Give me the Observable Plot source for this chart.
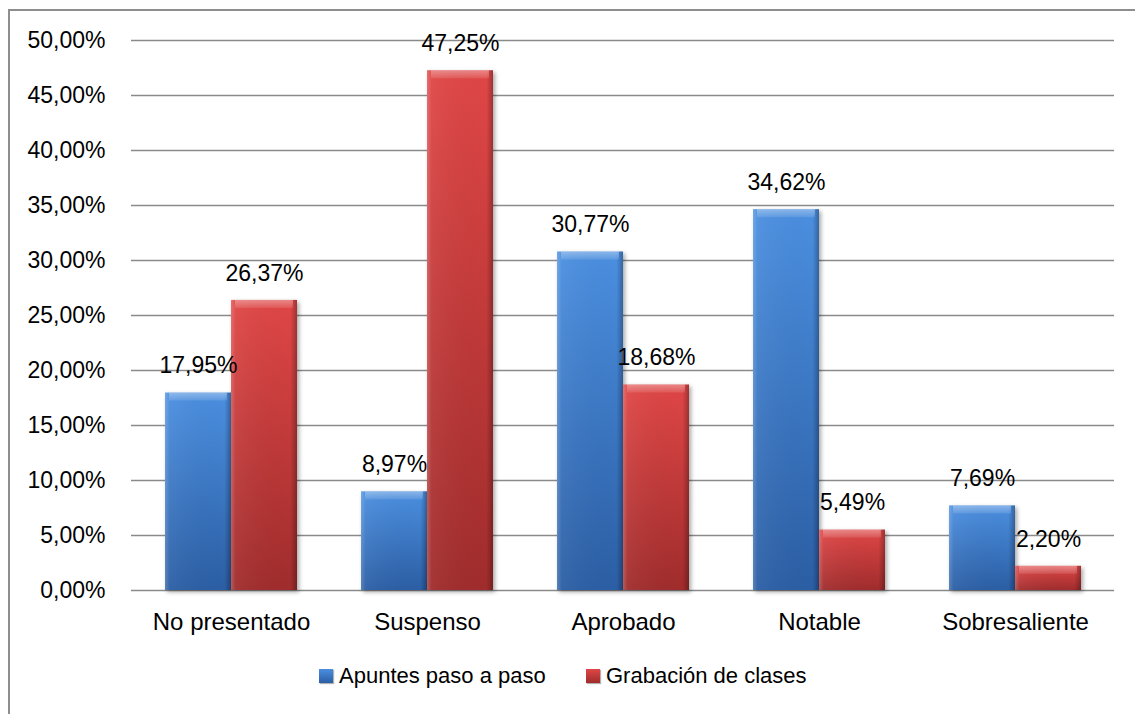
<!DOCTYPE html>
<html><head><meta charset="utf-8">
<script src="https://cdn.jsdelivr.net/npm/d3@7"></script>
<script src="https://cdn.jsdelivr.net/npm/@observablehq/plot@0.6"></script>
<style>
html,body{margin:0;padding:0;overflow:hidden;background:#fff;width:1135px;height:714px;}
body{font-family:"Liberation Sans",Arial,sans-serif;position:relative;}
#frame{position:absolute;left:8px;top:9px;width:1200px;height:800px;border:2px solid #8e8e8e;box-sizing:border-box;}
#chart{position:absolute;left:0;top:0;}
#legend{position:absolute;left:0;top:662px;width:1135px;height:28px;}
.item{position:absolute;top:0;height:28px;display:flex;align-items:center;gap:6px;font-size:22px;line-height:28px;color:#000;white-space:nowrap;}
.sw{width:14px;height:14px;box-shadow:1px 1px 1px rgba(0,0,0,0.3);}
</style></head>
<body>
<div id="frame"></div>
<div id="chart"></div>
<div id="legend"></div>
<script>
const categories = ["No presentado", "Suspenso", "Aprobado", "Notable", "Sobresaliente"];
const series = ["Apuntes paso a paso", "Grabación de clases"];
const apuntes = [17.95, 8.97, 30.77, 34.62, 7.69];
const grabacion = [26.37, 47.25, 18.68, 5.49, 2.20];
const yTicks = [0, 5, 10, 15, 20, 25, 30, 35, 40, 45, 50];
const colorsTop = ["#4b8fe0", "#e04646"];
const colorsBottom = ["#2b5ea4", "#a02c2c"];

const fmt = v => v.toFixed(2).replace(".", ",") + "%";

const data = [];
categories.forEach((c, i) => {
  data.push({category: c, series: series[0], value: apuntes[i]});
  data.push({category: c, series: series[1], value: grabacion[i]});
});

const W = 1135, H = 650, mL = 131, mR = 21, mT = 40, mB = 60;
const pInner = 0.3286, pOuter = 0.1643;
const step = (W - mL - mR) / (categories.length - pInner + 2 * pOuter);
const half = step * (1 - pInner) / 2;

const s0 = data.filter(d => d.series === series[0]);
const s1 = data.filter(d => d.series === series[1]);

const plot = Plot.plot({
  width: W, height: H,
  marginLeft: mL, marginRight: mR, marginTop: mT, marginBottom: mB,
  style: {fontFamily: "Liberation Sans, Arial, sans-serif", fontSize: "23px", color: "#000", background: "transparent", overflow: "visible"},
  x: {domain: categories, paddingInner: pInner, paddingOuter: pOuter, axis: null},
  y: {domain: [0, 50], axis: null},
  marks: [
    Plot.ruleY(yTicks, {y: d => d, stroke: "#8a8a8a", strokeWidth: 1.4}),
    Plot.axisY(yTicks, {tickSize: 0, tickPadding: 26, tickFormat: fmt, line: true, stroke: "#8a8a8a", strokeWidth: 1.4, fill: "#000", fontSize: 23, label: null}),
    Plot.axisX(categories, {tickSize: 0, tickPadding: 22, fill: "#000", fontSize: 24, label: null}),
    Plot.barY(s0, {x: "category", y: "value", fill: "url(#gBlue)", insetRight: half, className: "mainbar"}),
    Plot.barY(s1, {x: "category", y: "value", fill: "url(#gRed)", insetLeft: half, className: "mainbar"}),
    Plot.barY(s0, {x: "category", y: "value", fill: "url(#gSide)", insetRight: half}),
    Plot.barY(s1, {x: "category", y: "value", fill: "url(#gSide)", insetLeft: half}),
    Plot.barY(s0, {x: "category", y1: "value", y2: "value", insetBottom: -8, fill: "url(#gTop)", insetRight: half + 4, insetLeft: 4}),
    Plot.barY(s1, {x: "category", y1: "value", y2: "value", insetBottom: -8, fill: "url(#gTop)", insetLeft: half + 4, insetRight: 4}),
    Plot.text(s0, {x: "category", y: "value", text: d => fmt(d.value), dx: -half / 2, dy: -27, fontSize: 23, fill: "#000"}),
    Plot.text(s1, {x: "category", y: "value", text: d => fmt(d.value), dx: half / 2, dy: -27, fontSize: 23, fill: "#000"})
  ]
});

const defs = `<defs>
<linearGradient id="gBlue" x1="0" y1="0" x2="0" y2="1"><stop offset="0" stop-color="${colorsTop[0]}"/><stop offset="1" stop-color="${colorsBottom[0]}"/></linearGradient>
<linearGradient id="gRed" x1="0" y1="0" x2="0" y2="1"><stop offset="0" stop-color="${colorsTop[1]}"/><stop offset="1" stop-color="${colorsBottom[1]}"/></linearGradient>
<linearGradient id="gSide" x1="0" y1="0" x2="1" y2="0"><stop offset="0" stop-color="#fff" stop-opacity="0.22"/><stop offset="0.07" stop-color="#fff" stop-opacity="0.05"/><stop offset="0.9" stop-color="#000" stop-opacity="0"/><stop offset="1" stop-color="#000" stop-opacity="0.28"/></linearGradient>
<linearGradient id="gTop" x1="0" y1="0" x2="0" y2="1"><stop offset="0" stop-color="#fff" stop-opacity="0.35"/><stop offset="1" stop-color="#fff" stop-opacity="0.1"/></linearGradient>
</defs>`;
plot.insertAdjacentHTML("afterbegin", defs);
plot.querySelectorAll(".mainbar").forEach(g => g.style.filter = "drop-shadow(2px 2px 2px rgba(0,0,0,0.35))");
document.getElementById("chart").appendChild(plot);

const legend = document.getElementById("legend");
const lefts = [319, 586];
series.forEach((s, i) => {
  const it = document.createElement("div");
  it.className = "item";
  it.style.left = lefts[i] + "px";
  const sw = document.createElement("div");
  sw.className = "sw";
  sw.style.background = `linear-gradient(${colorsTop[i]}, ${colorsBottom[i]})`;
  const t = document.createElement("span");
  t.textContent = s;
  it.appendChild(sw); it.appendChild(t);
  legend.appendChild(it);
});
</script>
</body></html>
